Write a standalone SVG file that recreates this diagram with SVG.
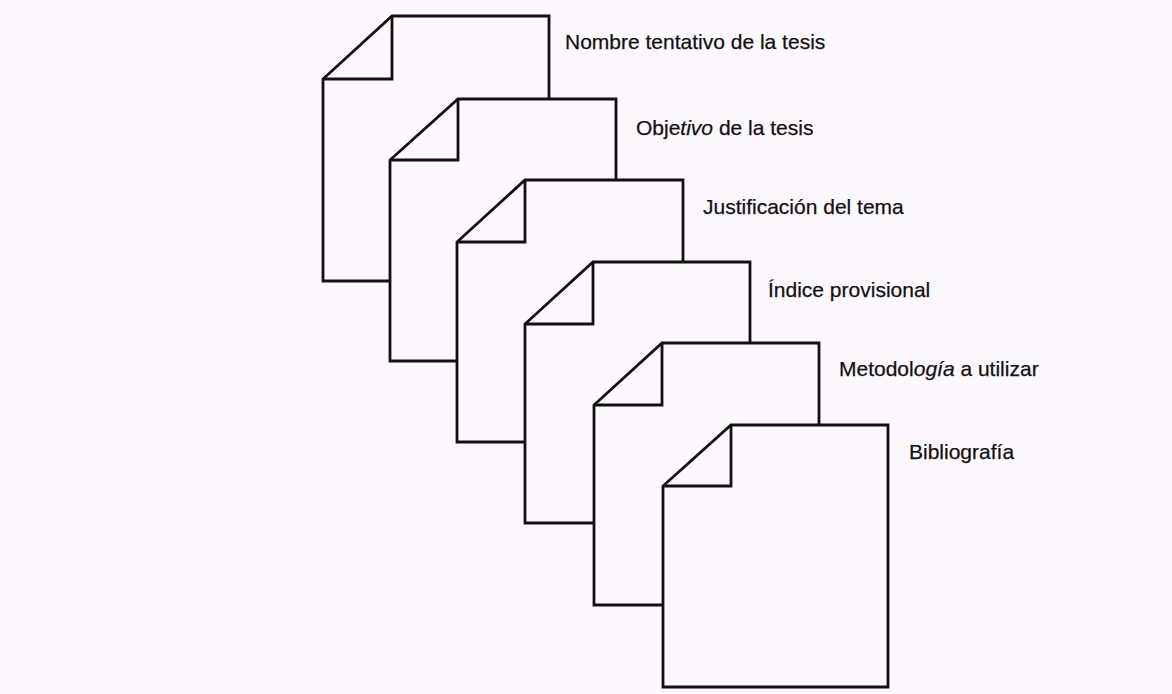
<svg xmlns="http://www.w3.org/2000/svg" width="1172" height="694" viewBox="0 0 1172 694">
<defs>
<style>
.bg{fill:#fdf8fd}
.doc{fill:#fdf8fd;stroke:#111;stroke-width:2.8;stroke-linejoin:miter}
.fold{fill:none;stroke:#111;stroke-width:2.8}
.lbl{font-family:"Liberation Sans",Arial,sans-serif;font-size:21px;fill:#111;stroke:#111;stroke-width:0.25}
.it{font-style:italic}
</style>
</defs>
<rect class="bg" x="0" y="0" width="1172" height="694"/>
<g id="doc1">
<path class="doc" d="M392,16 L549,16 L549,281 L323,281 L323,79 Z"/>
<path class="fold" d="M392,16 L392,79 L323,79"/>
</g>
<g id="doc2">
<path class="doc" d="M458,99 L616,99 L616,361 L390,361 L390,160 Z"/>
<path class="fold" d="M458,99 L458,160 L390,160"/>
</g>
<g id="doc3">
<path class="doc" d="M525,180 L683,180 L683,442 L457,442 L457,242 Z"/>
<path class="fold" d="M525,180 L525,242 L457,242"/>
</g>
<g id="doc4">
<path class="doc" d="M593,262 L750,262 L750,523 L525,523 L525,324 Z"/>
<path class="fold" d="M593,262 L593,324 L525,324"/>
</g>
<g id="doc5">
<path class="doc" d="M662,343 L819,343 L819,605 L594,605 L594,405 Z"/>
<path class="fold" d="M662,343 L662,405 L594,405"/>
</g>
<g id="doc6">
<path class="doc" d="M731,425 L888,425 L888,687 L663,687 L663,486 Z"/>
<path class="fold" d="M731,425 L731,486 L663,486"/>
</g>
<g id="labels">
<text class="lbl" x="565" y="49">Nombre tentativo de la tesis</text>
<text class="lbl" x="636" y="135">Obje<tspan class="it">tivo</tspan> de la tesis</text>
<text class="lbl" x="703" y="214">Justificación del tema</text>
<text class="lbl" x="768" y="297">Índice provisional</text>
<text class="lbl" x="839" y="376">Metodol<tspan class="it">ogía</tspan> a utilizar</text>
<text class="lbl" x="909" y="459">Bibliografía</text>
</g>
</svg>
